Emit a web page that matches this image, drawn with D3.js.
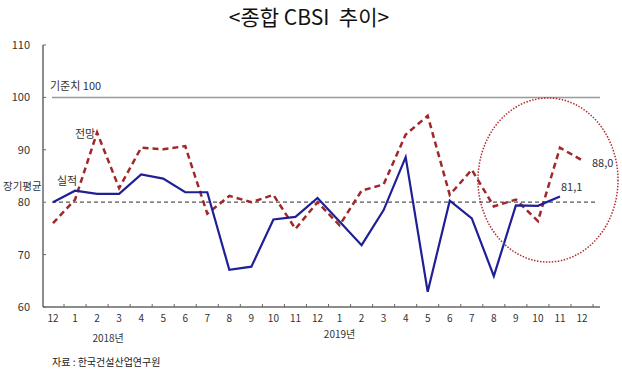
<!DOCTYPE html>
<html>
<head>
<meta charset="utf-8">
<script src="https://cdn.jsdelivr.net/npm/d3@7"></script>
<style>
  body { margin: 0; background: #fff; }
  text { font-family: "Noto Sans CJK KR", "Noto Sans", sans-serif; }
</style>
</head>
<body>
<script>
const width = 622, height = 375;

// Month labels, Dec 2017 .. Dec 2019
const months = ["12","1","2","3","4","5","6","7","8","9","10","11",
                "12","1","2","3","4","5","6","7","8","9","10","11","12"];
// 실적 (actual)
const actual = [80.0, 82.2, 81.6, 81.6, 85.3, 84.5, 81.9, 81.9, 67.1, 67.7, 76.7, 77.2,
                80.8, 76.3, 71.8, 78.5, 88.6, 62.9, 80.3, 76.9, 65.9, 79.4, 79.3, 81.1];
// 전망 (forecast)
const forecast = [76.0, 80.5, 93.3, 82.7, 90.4, 90.1, 90.7, 77.8, 81.2, 80.0, 81.4, 74.9,
                  80.0, 75.6, 82.2, 83.4, 92.9, 96.5, 81.4, 86.2, 79.2, 80.5, 76.4, 90.4, 88.0];
const yTicks = [60, 70, 80, 90, 100, 110];
const years = [{ label: "2018년", at: 2.5 }, { label: "2019년", at: 13 }];

const x = d3.scaleLinear().domain([0, months.length - 1]).range([53, 582]);
const y = d3.scaleLinear().domain([60, 110]).range([307, 45]);

const svg = d3.select("body").append("svg")
    .attr("width", width)
    .attr("height", height);

// Title
svg.append("text")
    .attr("x", 309).attr("y", 25)
    .attr("text-anchor", "middle")
    .attr("font-size", 21)
    .attr("fill", "#111")
    .attr("xml:space", "preserve")
    .style("white-space", "pre")
    .text("<종합 CBSI  추이>");

// Y axis
const axisColor = "#666";
svg.append("line")
    .attr("x1", 43).attr("x2", 43)
    .attr("y1", y(110)).attr("y2", y(60))
    .attr("stroke", axisColor).attr("stroke-width", 1.5);
svg.selectAll(".ytick").data(yTicks).join("line")
    .attr("x1", 43).attr("x2", 46)
    .attr("y1", d => y(d)).attr("y2", d => y(d))
    .attr("stroke", axisColor);
svg.selectAll(".ylab").data(yTicks).join("text")
    .attr("x", 30).attr("y", d => y(d) + 4)
    .attr("text-anchor", "end")
    .attr("font-size", 11)
    .attr("fill", "#333")
    .text(d => d);

// X axis
svg.append("line")
    .attr("x1", 43).attr("x2", 600)
    .attr("y1", y(60)).attr("y2", y(60))
    .attr("stroke", axisColor).attr("stroke-width", 1.5);
svg.selectAll(".xtick").data(d3.range(months.length)).join("line")
    .attr("x1", i => x(i + 0.5)).attr("x2", i => x(i + 0.5))
    .attr("y1", y(60)).attr("y2", y(60) - 3)
    .attr("stroke", axisColor);
svg.selectAll(".xlab").data(months).join("text")
    .attr("x", (d, i) => x(i)).attr("y", 322)
    .attr("text-anchor", "middle")
    .attr("font-size", 10)
    .attr("fill", "#333")
    .text(d => d);
svg.selectAll(".year").data(years).join("text")
    .attr("x", d => x(d.at)).attr("y", d => d.at < 5 ? 342 : 338)
    .attr("text-anchor", "middle")
    .attr("font-size", 10)
    .attr("fill", "#333")
    .text(d => d.label);

// Reference lines
svg.append("line")
    .attr("x1", 52).attr("x2", 600)
    .attr("y1", y(100)).attr("y2", y(100))
    .attr("stroke", "#999").attr("stroke-width", 1.5);
svg.append("line")
    .attr("x1", 52).attr("x2", 598)
    .attr("y1", y(80)).attr("y2", y(80))
    .attr("stroke", "#555").attr("stroke-width", 1.3)
    .attr("stroke-dasharray", "4,3");

// Series
const line = d3.line().x((d, i) => x(i)).y(d => y(d));
svg.append("path").datum(forecast)
    .attr("d", line)
    .attr("fill", "none")
    .attr("stroke", "#a0282a")
    .attr("stroke-width", 2.5)
    .attr("stroke-dasharray", "6,4");
svg.append("path").datum(actual)
    .attr("d", line)
    .attr("fill", "none")
    .attr("stroke", "#1f1f96")
    .attr("stroke-width", 2.2);

// Highlight ellipse
svg.append("ellipse")
    .attr("cx", 548).attr("cy", 180)
    .attr("rx", 70).attr("ry", 82)
    .attr("fill", "none")
    .attr("stroke", "#b03030")
    .attr("stroke-width", 1.5)
    .attr("stroke-dasharray", "1.5,1.5");

// Annotations
const notes = [
  { t: "기준치 100", x: 50, y: 90, s: 11 },
  { t: "전망", x: 75, y: 138, s: 11 },
  { t: "실적", x: 57, y: 185, s: 11 },
  { t: "장기평균", x: 3, y: 190, s: 10.5 },
  { t: "88,0", x: x(24) + 10, y: y(forecast[24]) + 7, s: 11 },
  { t: "81,1", x: x(23) + 1, y: y(actual[23]) - 5, s: 11 }
];
svg.selectAll(".note").data(notes).join("text")
    .attr("x", d => d.x).attr("y", d => d.y)
    .attr("font-size", d => d.s)
    .attr("fill", "#333")
    .text(d => d.t);

// Source
svg.append("text")
    .attr("x", 52).attr("y", 366)
    .attr("font-size", 10)
    .attr("fill", "#222")
    .text("자료 : 한국건설산업연구원");
</script>
</body>
</html>
